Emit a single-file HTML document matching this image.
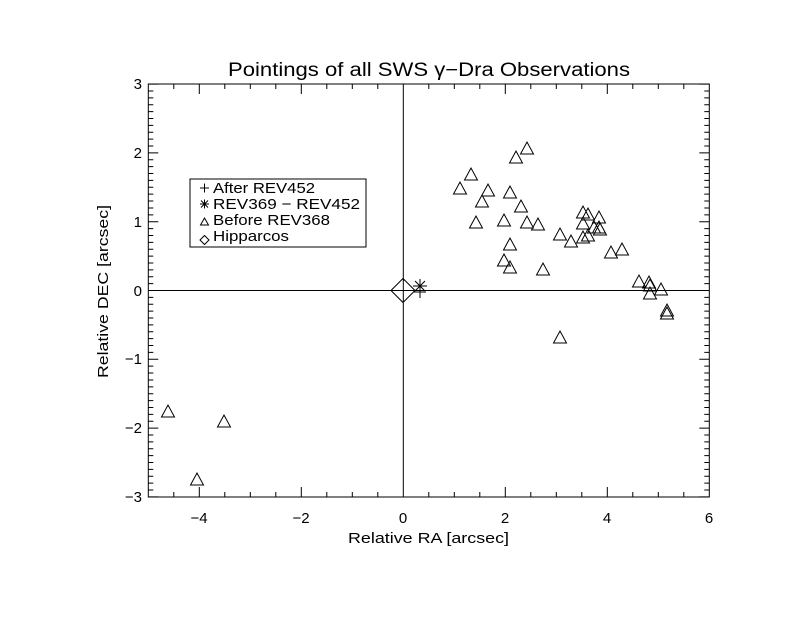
<!DOCTYPE html>
<html><head><meta charset="utf-8"><style>
html,body{margin:0;padding:0;background:#fff;}
svg text{font-family:"Liberation Sans",sans-serif;fill:#000;}
</style></head><body>
<svg id="s" width="792" height="612" xmlns="http://www.w3.org/2000/svg">
<rect width="792" height="612" fill="#fff"/>
<g id="g" stroke="#000" stroke-width="1" fill="none"></g>
<text x="228" y="76" font-size="19" textLength="402" lengthAdjust="spacingAndGlyphs">Pointings of all SWS γ−Dra Observations</text>
<text x="348" y="543" font-size="15" textLength="161" lengthAdjust="spacingAndGlyphs">Relative RA [arcsec]</text>
<text x="0" y="0" font-size="15" textLength="173" lengthAdjust="spacingAndGlyphs" transform="translate(108,378) rotate(-90)">Relative DEC [arcsec]</text>
<g font-size="15" text-anchor="middle">
<text x="199" y="523">−4</text><text x="301" y="523">−2</text><text x="403" y="523">0</text><text x="505" y="523">2</text><text x="607" y="523">4</text><text x="709" y="523">6</text>
</g>
<g font-size="15" text-anchor="end">
<text x="142" y="502">−3</text><text x="142" y="433">−2</text><text x="142" y="364">−1</text><text x="142" y="296">0</text><text x="142" y="227">1</text><text x="142" y="158">2</text><text x="142" y="89">3</text>
</g>
<rect x="190" y="179" width="176" height="68" fill="#fff" stroke="#000"/>
<g font-size="15">
<text x="213" y="193" textLength="102" lengthAdjust="spacingAndGlyphs">After REV452</text>
<text x="213" y="209" textLength="147" lengthAdjust="spacingAndGlyphs">REV369 − REV452</text>
<text x="213" y="225" textLength="117" lengthAdjust="spacingAndGlyphs">Before REV368</text>
<text x="213" y="241" textLength="76" lengthAdjust="spacingAndGlyphs">Hipparcos</text>
</g>
<g stroke="#000" fill="none">
<path d="M200 188h9M204.5 183.5v9"/>
<path d="M200 204h9M204.5 199.5v9M201 200.5l7 7M208 200.5l-7 7"/>
<path d="M200.5 225l4-7 4 7z"/>
<path d="M204.5 235.5l4.5 4.5-4.5 4.5-4.5-4.5z"/>
</g>
</svg>
<script>
var g=document.getElementById('g'),ns='http://www.w3.org/2000/svg',d='';
var L=148.3,R=709.3,T=84,B=497;
function X(v){return 403.3+51*v;} function Y(v){return 290.5-68.8*v;}
d+='M'+L+' '+T+'H'+R+'V'+B+'H'+L+'Z';
for(var i=0;i<=22;i++){var v=-5+i*0.5,x=X(v),len=(Math.abs(v%2)<1e-6)?10:5;d+='M'+x+' '+B+'v'+(-len)+'M'+x+' '+T+'v'+len;}
for(var i=0;i<=60;i++){var v=-3+i*0.1,y=Y(v),len=(Math.abs(Math.round(v)-v)<1e-6)?10:5;d+='M'+L+' '+y+'h'+len+'M'+R+' '+y+'h'+(-len);}
d+='M'+L+' 290.5H'+R+'M403.3 '+T+'V'+B;
var pts=[[168,411],[197,479],[224,421],[527,148],[516,157],[471,174],[460,188],[488,190],[482,201],[510,192],[521,206],[476,222],[504,220],[527,222],[538,224],[510,244],[504,260],[510,267],[543,269],[560,234],[571,241],[583,212],[588,214],[599,217],[583,223],[594,227],[599,227],[600,229],[588,235],[583,237],[611,252],[622,249],[639,281],[649,282],[650,285],[650,293],[661,289],[667,310],[667,313],[560,337]];
pts.forEach(function(p){d+='M'+(p[0]-6.5)+' '+(p[1]+6)+'l6.5-12 6.5 12z';});
d+='M391 290.5l12-12 12 12-12 12z';
d+='M413 286h14M420 279v14M415 281l10 10M425 281l-10 10';
d+='M414 292h12M420 286v12';
var p=document.createElementNS(ns,'path');p.setAttribute('d',d);g.appendChild(p);
</script>
</body></html>
